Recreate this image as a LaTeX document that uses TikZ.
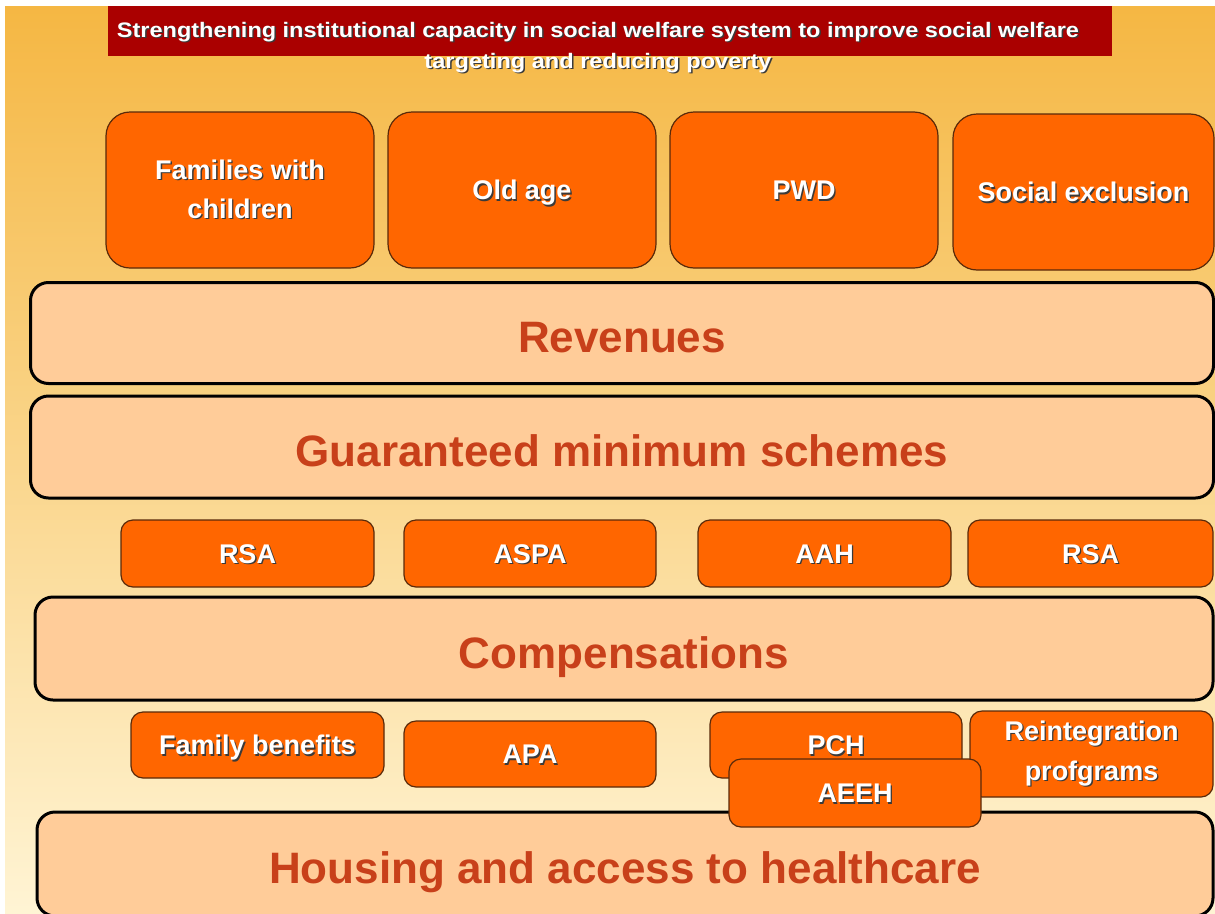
\documentclass[tikz,border=0pt]{standalone}
\usepackage{fontspec}
\setmainfont{Liberation Sans}
\usepackage{graphicx}
\definecolor{bgtop}{HTML}{F5B743}
\definecolor{bgmid}{HTML}{F9D171}
\definecolor{bgbot}{HTML}{FFF4D4}
\definecolor{banner}{HTML}{AA0000}
\definecolor{boxor}{HTML}{FF6600}
\definecolor{peach}{HTML}{FFCC99}
\definecolor{bigtxt}{HTML}{C8401A}
\definecolor{edgebr}{HTML}{5A2A0A}
\definecolor{shadowc}{HTML}{3A3A3A}
\newcommand{\sh}[1]{\makebox[0pt][l]{\kern1.3pt\raisebox{-1.3pt}{\textcolor{shadowc}{#1}}}#1}
\begin{document}
\begin{tikzpicture}[x=1pt,y=-1pt,
  topbox/.style={draw=edgebr, line width=1.2pt, fill=boxor, rounded corners=24pt,
    text=white, font=\fontsize{27}{39}\selectfont\bfseries, align=center, inner sep=0pt},
  oneline/.style={text height=19.5pt, text depth=0pt},
  smallbox/.style={draw=edgebr, line width=1.2pt, fill=boxor, rounded corners=12pt,
    text=white, font=\fontsize{27}{40}\selectfont\bfseries, align=center, inner sep=0pt},
  bar/.style={draw=black, line width=3pt, fill=peach, rounded corners=18pt,
    text=bigtxt, font=\fontsize{44}{50}\selectfont\bfseries, inner sep=0pt,
    text height=39pt, text depth=0pt},
  titletext/.style={text=white, font=\fontsize{21}{31}\selectfont\bfseries, align=center, inner sep=0pt}]
\useasboundingbox (0,0) rectangle (1215,913);
\clip (0,0) rectangle (1215,913);
\fill[white] (0,0) rectangle (1215,913);
\shade[top color=bgtop, middle color=bgmid, bottom color=bgbot] (5,6) rectangle (1215,913);
% title banner
\node[fill=banner, minimum width=1004pt, minimum height=50pt, inner sep=0pt] (banner) at (610,31) {};
\node[titletext] (title) at (598,48) {\resizebox{962pt}{\height}{\sh{Strengthening institutional capacity in social welfare system to improve social welfare}}\\
  \resizebox{347pt}{\height}{\sh{targeting and reducing poverty}}};
% top row
\node[topbox, minimum width=268pt, minimum height=156pt] (fam) at (240,190) {\sh{Families with}\\\sh{children}};
\node[topbox, oneline, minimum width=268pt, minimum height=156pt] (old) at (522,190) {\sh{Old age}};
\node[topbox, oneline, minimum width=268pt, minimum height=156pt] (pwd) at (804,190) {\sh{PWD}};
\node[topbox, oneline, minimum width=261pt, minimum height=156pt] (soc) at (1083.5,192) {\sh{Social exclusion}};
% bars
\node[bar, minimum width=1183pt, minimum height=101pt] (rev) at (622,333) {Revenues};
\node[bar, minimum width=1183pt, minimum height=102pt] (gms) at (622,447) {Guaranteed minimum schemes};
% middle small boxes
\node[smallbox, oneline, minimum width=253pt, minimum height=67pt] (rsa1) at (247.5,553.5) {\sh{RSA}};
\node[smallbox, oneline, minimum width=252pt, minimum height=67pt] (aspa) at (530,553.5) {\sh{ASPA}};
\node[smallbox, oneline, minimum width=253pt, minimum height=67pt] (aah) at (824.5,553.5) {\sh{AAH}};
\node[smallbox, oneline, minimum width=245pt, minimum height=67pt] (rsa2) at (1090.5,553.5) {\sh{RSA}};
\node[bar, minimum width=1178pt, minimum height=103pt] (comp) at (624,648.5) {Compensations};
\node[bar, minimum width=1176pt, minimum height=104pt] (house) at (625,864) {Housing and access to healthcare};
% bottom small boxes
\node[smallbox, oneline, minimum width=253pt, minimum height=66pt] (fb) at (257.5,745) {\sh{Family benefits}};
\node[smallbox, oneline, minimum width=252pt, minimum height=66pt] (apa) at (530,754) {\sh{APA}};
\node[smallbox, oneline, minimum width=252pt, minimum height=66pt] (pch) at (836,745) {\sh{PCH}};
\node[smallbox, minimum width=243pt, minimum height=86pt] (reint) at (1091.5,754) {\sh{Reintegration}\\\sh{profgrams}};
\node[smallbox, oneline, minimum width=252pt, minimum height=68pt] (aeeh) at (855,793) {\sh{AEEH}};
\end{tikzpicture}
\end{document}
